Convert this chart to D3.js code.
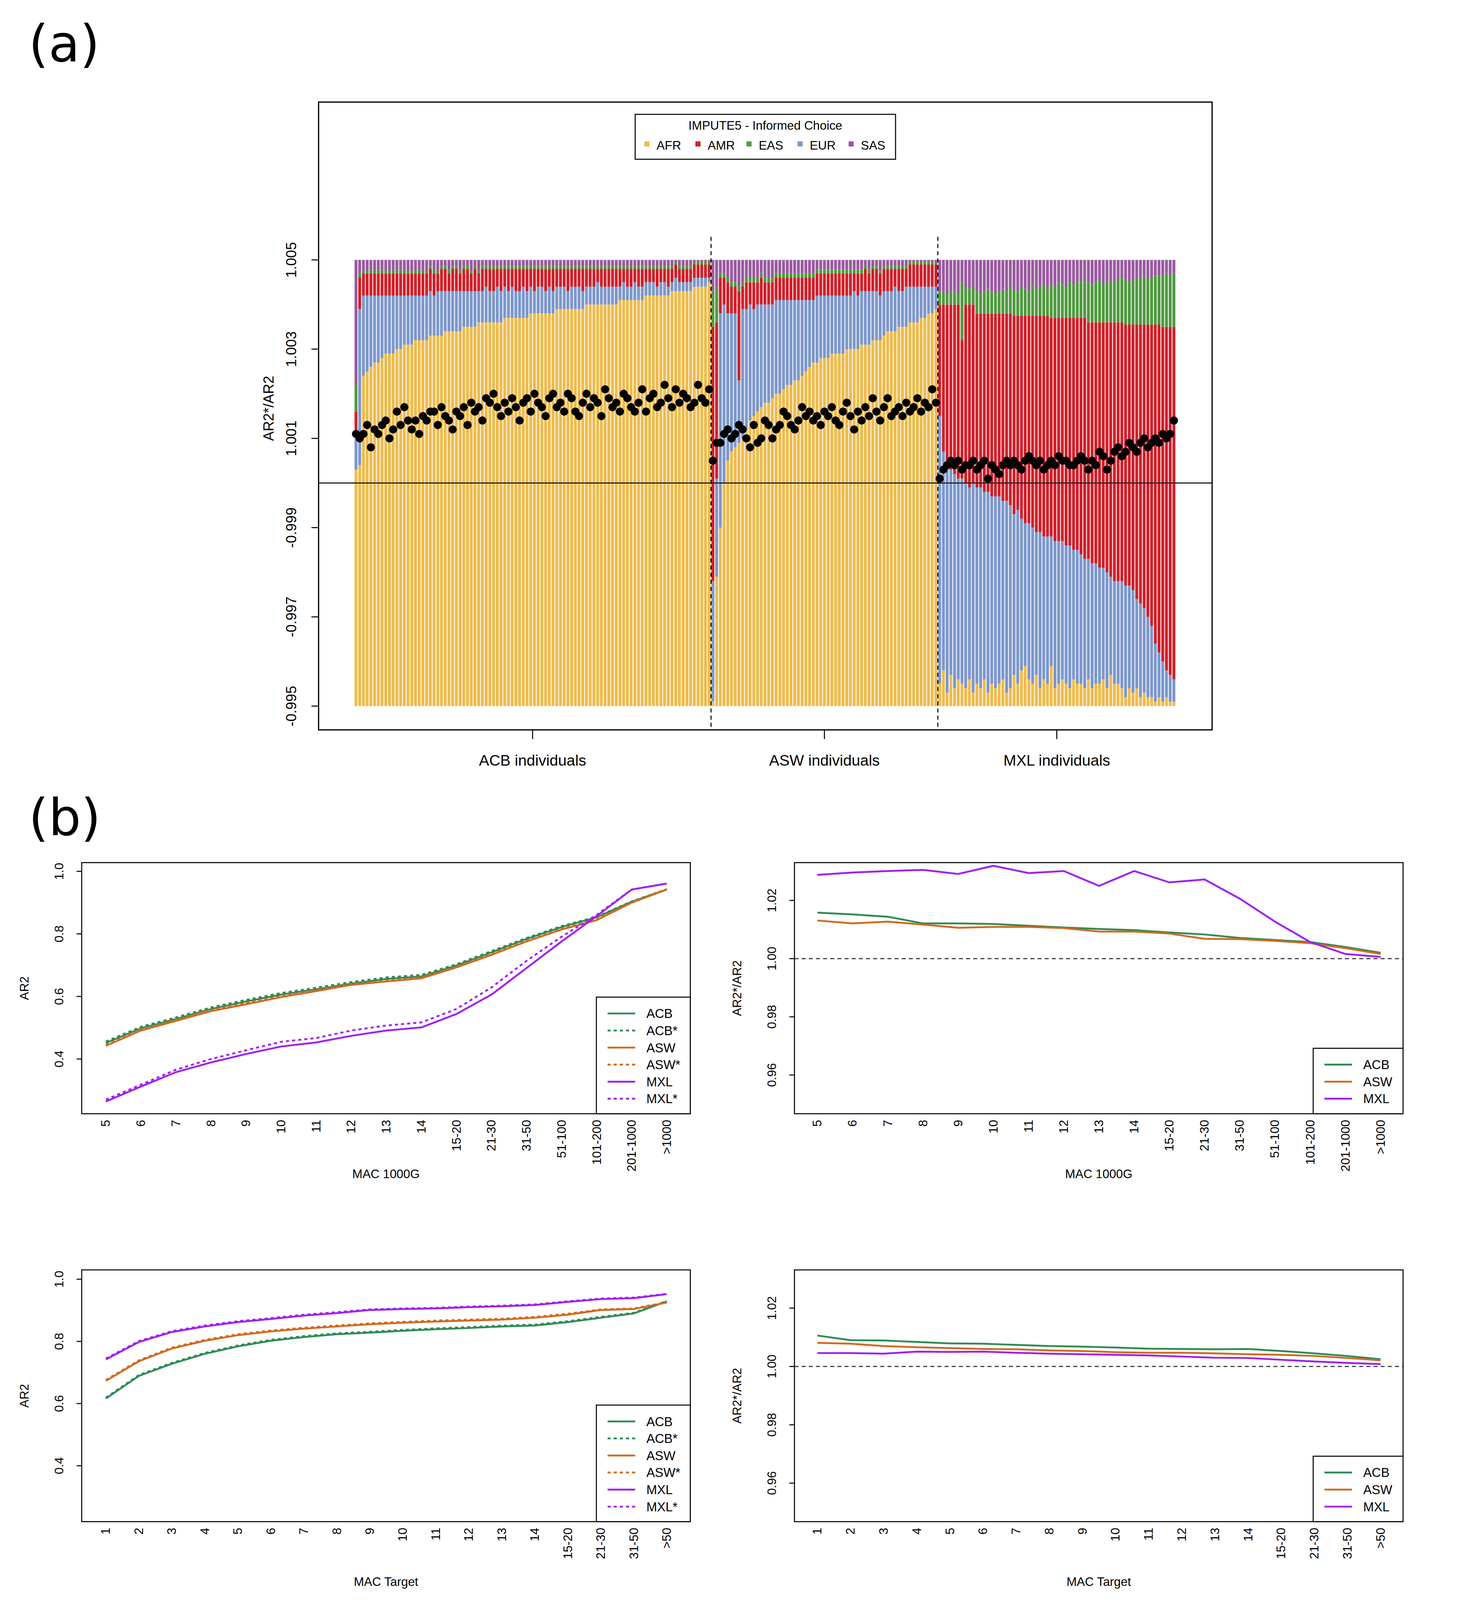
<!DOCTYPE html>
<html>
<head>
<meta charset="utf-8">
<script src="https://cdn.jsdelivr.net/npm/d3@7"></script>
<style>
  html, body { margin: 0; padding: 0; background: #fff; overflow: hidden; }
  svg { display: block; }
  text { font-family: "Liberation Sans", Arial, sans-serif; }
</style>
</head>
<body>
<svg id="chart"></svg>
<script>
// ---- panel (a): ancestry proportions per individual ----
const acbAFR = [0.53,0.54,0.74,0.75,0.76,0.77,0.77,0.78,0.79,0.79,
  0.79,0.80,0.80,0.81,0.81,0.81,0.82,0.82,0.82,0.82,
  0.83,0.83,0.83,0.83,0.84,0.84,0.84,0.84,0.84,0.85,
  0.85,0.85,0.85,0.86,0.86,0.86,0.86,0.86,0.86,0.86,
  0.87,0.87,0.87,0.87,0.87,0.87,0.87,0.88,0.88,0.88,
  0.88,0.88,0.88,0.88,0.89,0.89,0.89,0.89,0.89,0.89,
  0.89,0.89,0.90,0.90,0.90,0.90,0.90,0.90,0.90,0.90,
  0.90,0.91,0.91,0.91,0.91,0.91,0.91,0.91,0.92,0.92,
  0.92,0.92,0.92,0.92,0.92,0.93,0.93,0.93,0.93,0.93,
  0.93,0.94,0.94,0.94,0.94,0.95];
const acbEUR = [0.08,0.35,0.18,0.17,0.16,0.15,0.15,0.14,0.13,0.13,
  0.13,0.12,0.12,0.11,0.11,0.11,0.10,0.10,0.10,0.10,
  0.10,0.09,0.10,0.10,0.09,0.09,0.09,0.09,0.09,0.08,
  0.08,0.08,0.08,0.07,0.07,0.08,0.07,0.07,0.08,0.07,
  0.07,0.06,0.07,0.06,0.06,0.07,0.06,0.06,0.05,0.06,
  0.06,0.05,0.06,0.05,0.05,0.05,0.05,0.04,0.05,0.05,
  0.05,0.04,0.04,0.04,0.04,0.05,0.04,0.04,0.04,0.04,
  0.04,0.03,0.04,0.03,0.03,0.04,0.03,0.03,0.03,0.03,
  0.03,0.02,0.03,0.03,0.02,0.02,0.03,0.02,0.02,0.02,
  0.02,0.02,0.02,0.02,0.02,0.01];
const acbAMR = [0.05,0.07,0.05,0.05,0.05,0.05,0.05,0.05,0.05,0.05,
  0.05,0.05,0.05,0.05,0.05,0.05,0.05,0.05,0.05,0.05,
  0.05,0.05,0.04,0.05,0.05,0.04,0.05,0.05,0.04,0.05,
  0.05,0.04,0.05,0.04,0.05,0.04,0.05,0.05,0.04,0.05,
  0.04,0.05,0.04,0.05,0.05,0.04,0.05,0.04,0.05,0.04,
  0.04,0.05,0.04,0.05,0.04,0.04,0.04,0.05,0.04,0.04,
  0.04,0.05,0.04,0.04,0.04,0.03,0.04,0.04,0.04,0.04,
  0.04,0.04,0.03,0.04,0.04,0.03,0.04,0.04,0.03,0.03,
  0.03,0.04,0.03,0.03,0.04,0.03,0.03,0.03,0.03,0.03,
  0.03,0.03,0.03,0.03,0.03,0.03];
const acbEAS = [0.06,0.01,0.006,0.006,0.008,0.006,0.006,0.008,0.006,0.006,
  0.008,0.006,0.006,0.008,0.006,0.006,0.006,0.008,0.006,0.006,
  0.006,0.008,0.006,0.006,0.006,0.008,0.006,0.006,0.006,0.006,
  0.008,0.006,0.006,0.006,0.006,0.006,0.008,0.006,0.006,0.006,
  0.006,0.006,0.006,0.008,0.006,0.006,0.006,0.006,0.006,0.006,
  0.006,0.006,0.008,0.006,0.006,0.006,0.006,0.006,0.006,0.006,
  0.006,0.006,0.006,0.006,0.008,0.006,0.006,0.006,0.006,0.006,
  0.006,0.006,0.006,0.006,0.006,0.006,0.006,0.006,0.006,0.006,
  0.006,0.006,0.006,0.006,0.006,0.006,0.006,0.006,0.006,0.006,
  0.006,0.006,0.006,0.006,0.006,0.006];
const aswAFR = [0.01,0.29,0.40,0.50,0.55,0.57,0.58,0.59,0.60,0.62,
  0.64,0.65,0.66,0.67,0.68,0.68,0.69,0.70,0.70,0.71,
  0.72,0.72,0.73,0.73,0.74,0.75,0.76,0.77,0.77,0.78,
  0.78,0.78,0.79,0.79,0.79,0.79,0.80,0.80,0.80,0.80,
  0.81,0.81,0.81,0.82,0.82,0.82,0.83,0.84,0.84,0.84,
  0.85,0.85,0.85,0.86,0.86,0.86,0.87,0.87,0.88,0.88,0.89];
const aswEUR = [0.27,0.22,0.48,0.40,0.33,0.31,0.30,0.14,0.29,0.27,
  0.26,0.24,0.24,0.23,0.22,0.22,0.21,0.21,0.21,0.20,
  0.19,0.19,0.18,0.18,0.17,0.16,0.15,0.14,0.15,0.14,
  0.14,0.14,0.13,0.13,0.13,0.13,0.12,0.12,0.13,0.12,
  0.12,0.12,0.12,0.11,0.11,0.10,0.10,0.09,0.09,0.10,
  0.08,0.08,0.09,0.08,0.08,0.08,0.07,0.07,0.06,0.06,0.05];
const aswAMR = [0.57,0.35,0.08,0.06,0.07,0.06,0.06,0.20,0.05,0.06,
  0.05,0.06,0.05,0.06,0.05,0.05,0.05,0.05,0.05,0.05,
  0.05,0.05,0.05,0.05,0.05,0.05,0.05,0.05,0.05,0.05,
  0.05,0.05,0.05,0.05,0.05,0.05,0.05,0.05,0.04,0.05,
  0.04,0.05,0.04,0.05,0.05,0.05,0.05,0.05,0.05,0.04,
  0.05,0.05,0.04,0.05,0.05,0.05,0.05,0.05,0.05,0.05,0.05];
const aswEAS = [0.08,0.08,0.01,0.01,0.01,0.01,0.01,0.01,0.01,0.01,
  0.01,0.01,0.01,0.01,0.01,0.01,0.01,0.01,0.01,0.01,
  0.01,0.01,0.01,0.01,0.01,0.01,0.01,0.01,0.01,0.008,
  0.008,0.008,0.008,0.008,0.008,0.008,0.008,0.008,0.008,0.008,
  0.008,0.008,0.008,0.006,0.006,0.006,0.006,0.006,0.006,0.006,
  0.006,0.006,0.006,0.006,0.006,0.006,0.006,0.006,0.006,0.006,0.006];
const mxlAFR = [0.05,0.08,0.03,0.07,0.04,0.06,0.05,0.04,0.06,0.03,
  0.05,0.04,0.06,0.03,0.05,0.04,0.05,0.06,0.03,0.04,
  0.07,0.05,0.08,0.09,0.06,0.05,0.07,0.04,0.06,0.05,
  0.09,0.04,0.05,0.06,0.05,0.04,0.06,0.05,0.05,0.04,
  0.06,0.04,0.05,0.05,0.06,0.04,0.07,0.05,0.05,0.04,
  0.02,0.04,0.03,0.04,0.02,0.03,0.02,0.02,0.01,0.02,
  0.01,0.02,0.01,0.01];
const mxlEUR = [0.60,0.49,0.50,0.46,0.48,0.45,0.46,0.46,0.43,0.47,
  0.44,0.45,0.42,0.45,0.42,0.43,0.42,0.40,0.43,0.41,
  0.36,0.39,0.34,0.32,0.35,0.35,0.32,0.35,0.32,0.33,
  0.29,0.33,0.32,0.31,0.31,0.32,0.29,0.30,0.29,0.29,
  0.27,0.28,0.27,0.26,0.25,0.26,0.22,0.23,0.23,0.24,
  0.25,0.23,0.23,0.20,0.21,0.19,0.18,0.16,0.13,0.10,
  0.09,0.06,0.06,0.05];
const mxlAMR = [0.25,0.33,0.37,0.37,0.38,0.39,0.31,0.40,0.41,0.40,
  0.39,0.39,0.40,0.40,0.41,0.41,0.41,0.42,0.42,0.43,
  0.445,0.435,0.455,0.465,0.465,0.475,0.485,0.485,0.495,0.495,
  0.49,0.50,0.50,0.50,0.51,0.51,0.52,0.52,0.53,0.54,
  0.53,0.54,0.54,0.55,0.55,0.56,0.57,0.58,0.58,0.58,
  0.585,0.585,0.595,0.615,0.625,0.635,0.655,0.675,0.715,0.735,
  0.75,0.77,0.78,0.79];
const mxlEAS = [0.03,0.03,0.025,0.03,0.03,0.025,0.13,0.04,0.035,0.04,
  0.05,0.045,0.05,0.055,0.05,0.045,0.05,0.055,0.05,0.06,
  0.06,0.055,0.065,0.06,0.055,0.07,0.06,0.065,0.07,0.06,
  0.075,0.07,0.08,0.075,0.07,0.08,0.075,0.08,0.085,0.08,
  0.09,0.085,0.09,0.095,0.085,0.09,0.095,0.09,0.095,0.1,
  0.1,0.095,0.1,0.105,0.1,0.11,0.1,0.105,0.11,0.11,
  0.115,0.12,0.115,0.12];
// AR2*/AR2 per individual, in units of 0.001 above 1
const acbRatio = [1.1,1.0,1.1,1.3,0.8,1.2,1.1,1.3,1.4,1.0,
  1.2,1.6,1.3,1.7,1.4,1.2,1.4,1.1,1.5,1.4,
  1.6,1.6,1.3,1.7,1.5,1.4,1.2,1.6,1.5,1.7,
  1.3,1.8,1.6,1.7,1.4,1.9,1.8,2.0,1.7,1.5,
  1.8,1.6,1.9,1.7,1.4,1.8,1.9,1.6,2.0,1.8,
  1.7,1.5,1.9,2.0,1.7,1.8,1.6,2.0,1.9,1.6,
  1.5,1.8,2.0,1.7,1.9,1.8,1.5,2.1,1.9,1.7,
  1.8,1.6,2.0,1.9,1.7,1.6,1.8,2.1,1.6,1.9,
  2.0,1.7,1.8,2.2,1.9,1.7,2.1,1.8,2.0,1.9,
  1.7,1.8,2.2,1.9,1.8,2.1];
const aswRatio = [0.5,0.9,0.9,1.1,1.2,1.0,1.1,1.3,1.2,1.0,
  0.8,1.3,0.9,1.0,1.4,1.3,1.0,1.2,1.3,1.6,
  1.5,1.3,1.2,1.4,1.7,1.5,1.6,1.4,1.5,1.3,
  1.6,1.5,1.7,1.4,1.3,1.6,1.8,1.5,1.2,1.6,
  1.4,1.7,1.5,1.9,1.6,1.4,1.7,1.9,1.5,1.6,
  1.7,1.5,1.8,1.6,1.7,1.9,1.6,1.8,1.7,2.1,1.8];
const mxlRatio = [0.1,0.3,0.4,0.5,0.4,0.5,0.3,0.4,0.4,0.5,
  0.3,0.4,0.5,0.1,0.4,0.3,0.2,0.4,0.5,0.4,
  0.5,0.4,0.3,0.5,0.6,0.5,0.4,0.5,0.3,0.4,
  0.5,0.4,0.6,0.5,0.5,0.4,0.4,0.5,0.6,0.5,
  0.3,0.5,0.4,0.7,0.6,0.3,0.5,0.7,0.8,0.6,
  0.7,0.9,0.8,0.7,0.9,1.0,0.8,0.9,1.0,0.9,
  1.1,1.0,1.1,1.4];
const groups = ['ACB', 'ASW', 'MXL'];
const ancestries = ['AFR', 'AMR', 'EAS', 'EUR', 'SAS'];
const ancColor = { AFR: '#EEBB4D', AMR: '#D0202A', EAS: '#4F9A3F', EUR: '#7C97CC', SAS: '#9A5AA0' };
const stackOrder = ['AFR', 'EUR', 'AMR', 'EAS', 'SAS'];
const ratioTicks = [1.005, 1.003, 1.001, 0.999, 0.997, 0.995];
const ratioTickLabels = ['1.005', '1.003', '1.001', '-0.999', '-0.997', '-0.995'];

// ---- panel (b) ----
const mac1000G = ['5','6','7','8','9','10','11','12','13','14','15-20','21-30','31-50','51-100','101-200','201-1000','>1000'];
const macTarget = ['1','2','3','4','5','6','7','8','9','10','11','12','13','14','15-20','21-30','31-50','>50'];
const popColor = { ACB: '#2E8B57', ASW: '#D2691E', MXL: '#A020F0' };

const g1ACB = [0.451,0.498,0.528,0.560,0.584,0.606,0.623,0.641,0.656,0.664,0.699,0.741,0.784,0.822,0.853,0.903,0.942];
const g1ACBs = [0.456,0.503,0.533,0.565,0.589,0.611,0.628,0.646,0.661,0.669,0.703,0.745,0.787,0.825,0.855,0.904,0.943];
const g1ASW = [0.442,0.491,0.522,0.553,0.575,0.598,0.617,0.637,0.648,0.658,0.693,0.733,0.776,0.814,0.844,0.900,0.942];
const g1ASWs = [0.446,0.495,0.526,0.557,0.579,0.602,0.621,0.640,0.651,0.661,0.696,0.736,0.778,0.816,0.846,0.901,0.943];
const g1MXL = [0.264,0.312,0.358,0.389,0.416,0.440,0.453,0.474,0.491,0.501,0.544,0.606,0.691,0.776,0.857,0.942,0.961];
const g1MXLs = [0.270,0.318,0.366,0.400,0.428,0.455,0.467,0.491,0.507,0.517,0.560,0.629,0.714,0.791,0.861,0.942,0.961];
const r1ACB = [1.0158,1.0152,1.0144,1.0121,1.0121,1.0119,1.0113,1.0107,1.0102,1.0098,1.0090,1.0083,1.0071,1.0064,1.0057,1.0040,1.0020];
const r1ASW = [1.0131,1.0121,1.0127,1.0117,1.0106,1.0109,1.0109,1.0105,1.0093,1.0093,1.0086,1.0068,1.0067,1.0061,1.0053,1.0036,1.0016];
const r1MXL = [1.0288,1.0296,1.0301,1.0305,1.0291,1.0319,1.0294,1.0301,1.0250,1.0301,1.0262,1.0272,1.0206,1.0127,1.0057,1.0016,1.0006];

const g2ACB = [0.616,0.689,0.728,0.760,0.784,0.802,0.814,0.823,0.828,0.834,0.839,0.843,0.848,0.851,0.862,0.876,0.890,0.929];
const g2ACBs = [0.619,0.692,0.731,0.763,0.787,0.805,0.817,0.826,0.831,0.837,0.842,0.846,0.851,0.854,0.865,0.879,0.892,0.930];
const g2ASW = [0.673,0.736,0.777,0.802,0.820,0.832,0.841,0.848,0.855,0.860,0.864,0.867,0.870,0.876,0.886,0.901,0.904,0.925];
const g2ASWs = [0.676,0.739,0.780,0.805,0.823,0.835,0.844,0.851,0.858,0.863,0.867,0.870,0.873,0.879,0.889,0.903,0.906,0.926];
const g2MXL = [0.742,0.798,0.830,0.848,0.862,0.872,0.883,0.891,0.901,0.904,0.906,0.910,0.913,0.917,0.927,0.936,0.939,0.952];
const g2MXLs = [0.745,0.801,0.833,0.851,0.865,0.875,0.886,0.894,0.903,0.906,0.908,0.912,0.915,0.919,0.929,0.938,0.941,0.953];
const r2ACB = [1.0106,1.0090,1.0089,1.0084,1.0079,1.0078,1.0074,1.0070,1.0068,1.0065,1.0061,1.0060,1.0059,1.0060,1.0053,1.0045,1.0036,1.0025];
const r2ASW = [1.0081,1.0078,1.0070,1.0066,1.0063,1.0060,1.0059,1.0055,1.0053,1.0049,1.0047,1.0047,1.0045,1.0042,1.0040,1.0036,1.0029,1.0021];
const r2MXL = [1.0046,1.0046,1.0044,1.0051,1.0050,1.0051,1.0047,1.0044,1.0042,1.0040,1.0038,1.0034,1.0030,1.0029,1.0023,1.0017,1.0012,1.0008];

const W = 1390, H = 4242 * 1390 / 3762;
const svg = d3.select('#chart')
  .attr('width', '100vw').attr('height', '100vh')
  .attr('preserveAspectRatio', 'xMinYMin meet')
  .attr('viewBox', `0 0 ${W} ${H}`);

svg.append('text').attr('x', 28).attr('y', 60).attr('font-size', 50)
  .style('font-family', '"DejaVu Sans", sans-serif').text('(a)');
svg.append('text').attr('x', 28).attr('y', 818).attr('font-size', 50)
  .style('font-family', '"DejaVu Sans", sans-serif').text('(b)');

// ---------- panel (a) ----------
function panelA() {
  const pops = [
    { key: 'ACB', AFR: acbAFR, EUR: acbEUR, AMR: acbAMR, EAS: acbEAS, ratio: acbRatio },
    { key: 'ASW', AFR: aswAFR, EUR: aswEUR, AMR: aswAMR, EAS: aswEAS, ratio: aswRatio },
    { key: 'MXL', AFR: mxlAFR, EUR: mxlEUR, AMR: mxlAMR, EAS: mxlEAS, ratio: mxlRatio },
  ];
  const rows = [];
  pops.forEach((p) => {
    p.AFR.forEach((v, i) => {
      const r = { pop: p.key, AFR: v, EUR: p.EUR[i], AMR: p.AMR[i], EAS: p.EAS[i], ratio: 1 + p.ratio[i] / 1000 };
      r.SAS = Math.max(0, 1 - r.AFR - r.EUR - r.AMR - r.EAS);
      rows.push(r);
    });
  });
  rows.forEach((r, i) => { r.idx = i; });

  const x = d3.scaleBand().domain(rows.map((r) => r.idx)).range([347.2, 1151]).paddingInner(0.22);
  const yProp = d3.scaleLinear().domain([0, 1]).range([691.7, 254.6]);
  const yRatio = d3.scaleLinear().domain([0.995, 1.005]).range([691.7, 254.6]);
  const stack = d3.stack().keys(stackOrder)(rows);

  const g = svg.append('g');
  g.selectAll('g.layer').data(stack).join('g').attr('class', 'layer')
    .attr('fill', (d) => ancColor[d.key])
    .selectAll('rect').data((d) => d).join('rect')
    .attr('x', (d) => x(d.data.idx))
    .attr('width', x.bandwidth())
    .attr('y', (d) => yProp(d[1]))
    .attr('height', (d) => Math.max(0, yProp(d[0]) - yProp(d[1])));

  g.append('line').attr('x1', 312).attr('x2', 1187)
    .attr('y1', yRatio(1)).attr('y2', yRatio(1)).attr('stroke', '#222').attr('stroke-width', 1.2);

  // group boundaries
  const bounds = [];
  const centers = [];
  let n = 0;
  pops.forEach((p, k) => {
    const a = n; n += p.AFR.length;
    centers.push((x(a) + x(n - 1) + x.bandwidth()) / 2);
    if (k < pops.length - 1) bounds.push((x(n - 1) + x.bandwidth() + x(n)) / 2);
  });
  g.selectAll('line.bound').data(bounds).join('line').attr('class', 'bound')
    .attr('x1', (d) => d).attr('x2', (d) => d).attr('y1', 232).attr('y2', 712)
    .attr('stroke', '#000').attr('stroke-width', 1).attr('stroke-dasharray', '4,3');

  g.selectAll('circle').data(rows).join('circle')
    .attr('cx', (d) => x(d.idx) + x.bandwidth() / 2)
    .attr('cy', (d) => yRatio(d.ratio)).attr('r', 4).attr('fill', '#000');

  g.append('rect').attr('x', 312).attr('y', 100).attr('width', 875).attr('height', 615)
    .attr('fill', 'none').attr('stroke', '#000').attr('stroke-width', 1.2);

  // y axis, labels rotated like R's default
  ratioTicks.forEach((t, i) => {
    g.append('line').attr('x1', 305).attr('x2', 312).attr('y1', yRatio(t)).attr('y2', yRatio(t)).attr('stroke', '#000');
    g.append('text').attr('transform', `translate(290,${yRatio(t)}) rotate(-90)`)
      .attr('text-anchor', 'middle').attr('font-size', 14).text(ratioTickLabels[i]);
  });
  g.append('text').attr('transform', 'translate(268,400) rotate(-90)')
    .attr('text-anchor', 'middle').attr('font-size', 14).text('AR2*/AR2');

  const xt = g.selectAll('g.xt').data(groups).join('g').attr('class', 'xt');
  xt.append('line').attr('x1', (d, i) => centers[i]).attr('x2', (d, i) => centers[i])
    .attr('y1', 715).attr('y2', 724).attr('stroke', '#000');
  xt.append('text').attr('x', (d, i) => centers[i]).attr('y', 750).attr('text-anchor', 'middle')
    .attr('font-size', 15).text((d) => `${d} individuals`);

  // legend
  const lg = g.append('g');
  lg.append('rect').attr('x', 622).attr('y', 112).attr('width', 255).attr('height', 44)
    .attr('fill', '#fff').attr('stroke', '#000');
  lg.append('text').attr('x', 749.5).attr('y', 127).attr('text-anchor', 'middle')
    .attr('font-size', 12).text('IMPUTE5 - Informed Choice');
  const li = lg.selectAll('g.li').data(ancestries).join('g').attr('class', 'li')
    .attr('transform', (d, i) => `translate(${631 + i * 50},142)`);
  li.append('rect').attr('x', 0).attr('y', -3.5).attr('width', 5).attr('height', 5)
    .attr('fill', (d) => ancColor[d]);
  li.append('text').attr('x', 12).attr('y', 4.5).attr('font-size', 12).text((d) => d);
}

// ---------- panel (b) ----------
function linePanel(opt) {
  const { box, cats, xr, yDomain, yTicks, yFmt, yTitle, xTitle, series, legend, refLine } = opt;
  const [x0, y0, x1, y1] = box;
  const g = svg.append('g');
  const x = d3.scalePoint().domain(cats).range(xr);
  const y = d3.scaleLinear().domain(yDomain).range([y1, y0]);

  if (refLine) {
    g.append('line').attr('x1', x0).attr('x2', x1).attr('y1', y(1)).attr('y2', y(1))
      .attr('stroke', '#333').attr('stroke-width', 1).attr('stroke-dasharray', '4,3');
  }
  const line = d3.line().x((d, i) => x(cats[i])).y((d) => y(d));
  series.forEach((s) => {
    g.append('path').attr('d', line(s.values)).attr('fill', 'none')
      .attr('stroke', popColor[s.pop]).attr('stroke-width', 1.8)
      .attr('stroke-dasharray', s.dashed ? '3,3' : null);
  });

  g.append('rect').attr('x', x0).attr('y', y0).attr('width', x1 - x0).attr('height', y1 - y0)
    .attr('fill', 'none').attr('stroke', '#000').attr('stroke-width', 1);

  yTicks.forEach((t) => {
    g.append('line').attr('x1', x0 - 5).attr('x2', x0).attr('y1', y(t)).attr('y2', y(t)).attr('stroke', '#000');
    g.append('text').attr('transform', `translate(${x0 - 18},${y(t)}) rotate(-90)`)
      .attr('text-anchor', 'middle').attr('font-size', 12).text(yFmt(t));
  });
  g.append('text').attr('transform', `translate(${x0 - 52},${(y0 + y1) / 2}) rotate(-90)`)
    .attr('text-anchor', 'middle').attr('font-size', 12).text(yTitle);

  cats.forEach((c) => {
    g.append('text').attr('transform', `translate(${x(c) + 4},${y1 + 6}) rotate(-90)`)
      .attr('text-anchor', 'end').attr('font-size', 12).text(c);
  });
  g.append('text').attr('x', (x0 + x1) / 2).attr('y', y1 + 63).attr('text-anchor', 'middle')
    .attr('font-size', 12).text(xTitle);

  const lx = x1 - legend.w;
  const lh = legend.items.length * 16.7 + 14;
  g.append('rect').attr('x', lx).attr('y', y1 - lh).attr('width', legend.w).attr('height', lh)
    .attr('fill', '#fff').attr('stroke', '#000');
  legend.items.forEach((it, i) => {
    const yy = y1 - lh + 16 + i * 16.7;
    g.append('line').attr('x1', lx + 11).attr('x2', lx + 38).attr('y1', yy).attr('y2', yy)
      .attr('stroke', popColor[it.pop]).attr('stroke-width', 1.8)
      .attr('stroke-dasharray', it.dashed ? '3,3' : null);
    g.append('text').attr('x', lx + 49).attr('y', yy + 4.5).attr('font-size', 12.5).text(it.label);
  });
}

const fmt1 = (d) => d3.format('.1f')(d);
const fmt2 = (d) => d3.format('.2f')(d);
const sixItems = [
  { label: 'ACB', pop: 'ACB' }, { label: 'ACB*', pop: 'ACB', dashed: true },
  { label: 'ASW', pop: 'ASW' }, { label: 'ASW*', pop: 'ASW', dashed: true },
  { label: 'MXL', pop: 'MXL' }, { label: 'MXL*', pop: 'MXL', dashed: true },
];
const threeItems = [{ label: 'ACB', pop: 'ACB' }, { label: 'ASW', pop: 'ASW' }, { label: 'MXL', pop: 'MXL' }];

panelA();
linePanel({
  box: [80, 845, 676, 1091], cats: mac1000G, xr: [103.7, 653], yDomain: [0.225, 1.028],
  yTicks: [0.4, 0.6, 0.8, 1.0], yFmt: fmt1, yTitle: 'AR2', xTitle: 'MAC 1000G',
  series: [
    { pop: 'ACB', values: g1ACB }, { pop: 'ACB', values: g1ACBs, dashed: true },
    { pop: 'ASW', values: g1ASW }, { pop: 'ASW', values: g1ASWs, dashed: true },
    { pop: 'MXL', values: g1MXL }, { pop: 'MXL', values: g1MXLs, dashed: true },
  ],
  legend: { w: 92, items: sixItems },
});
linePanel({
  box: [778, 845, 1374, 1091], cats: mac1000G, xr: [800.5, 1352], yDomain: [0.9467, 1.033],
  yTicks: [0.96, 0.98, 1.00, 1.02], yFmt: fmt2, yTitle: 'AR2*/AR2', xTitle: 'MAC 1000G',
  series: [{ pop: 'ACB', values: r1ACB }, { pop: 'ASW', values: r1ASW }, { pop: 'MXL', values: r1MXL }],
  legend: { w: 88, items: threeItems }, refLine: true,
});
linePanel({
  box: [80, 1244, 676, 1490.6], cats: macTarget, xr: [103.7, 653], yDomain: [0.22, 1.03],
  yTicks: [0.4, 0.6, 0.8, 1.0], yFmt: fmt1, yTitle: 'AR2', xTitle: 'MAC Target',
  series: [
    { pop: 'ACB', values: g2ACB }, { pop: 'ACB', values: g2ACBs, dashed: true },
    { pop: 'ASW', values: g2ASW }, { pop: 'ASW', values: g2ASWs, dashed: true },
    { pop: 'MXL', values: g2MXL }, { pop: 'MXL', values: g2MXLs, dashed: true },
  ],
  legend: { w: 92, items: sixItems },
});
linePanel({
  box: [778, 1244, 1374, 1490.6], cats: macTarget, xr: [800.5, 1352], yDomain: [0.9468, 1.0331],
  yTicks: [0.96, 0.98, 1.00, 1.02], yFmt: fmt2, yTitle: 'AR2*/AR2', xTitle: 'MAC Target',
  series: [{ pop: 'ACB', values: r2ACB }, { pop: 'ASW', values: r2ASW }, { pop: 'MXL', values: r2MXL }],
  legend: { w: 88, items: threeItems }, refLine: true,
});
</script>
</body>
</html>
